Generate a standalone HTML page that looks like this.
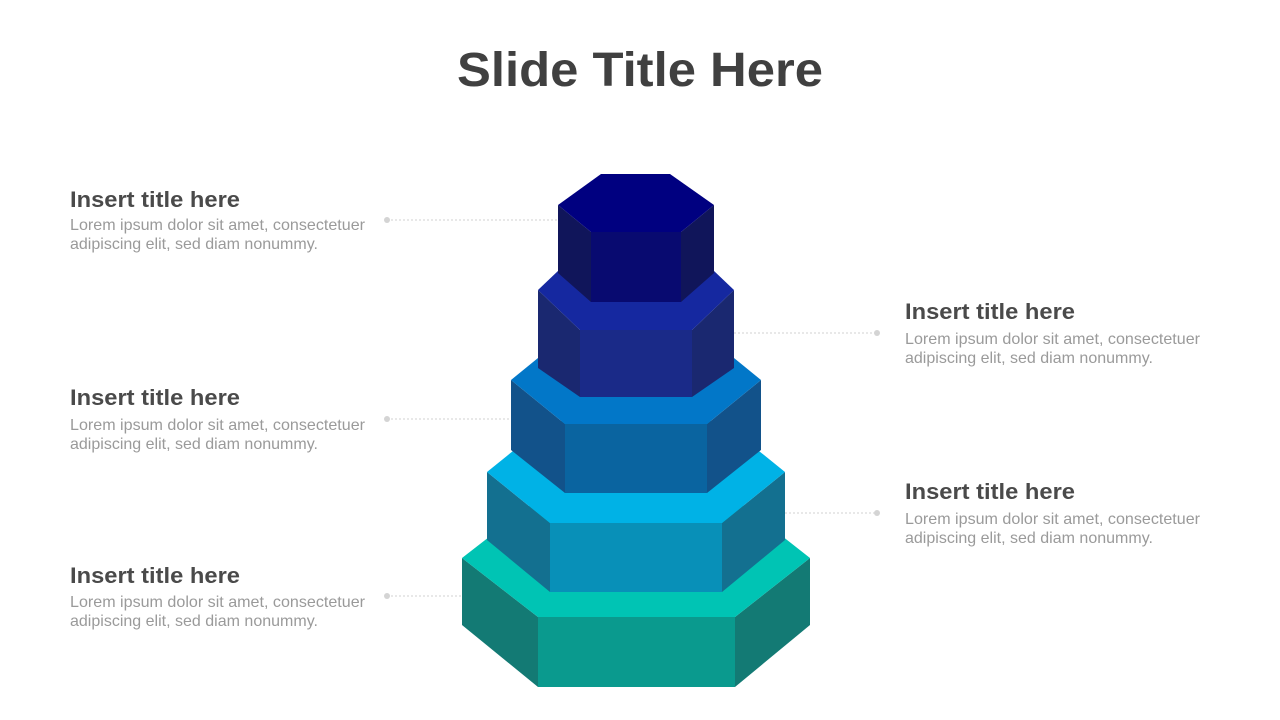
<!DOCTYPE html>
<html><head><meta charset="utf-8"><style>body{margin:0;background:#fff}svg{display:block}</style></head><body>
<svg width="1280" height="720" viewBox="0 0 1280 720" xmlns="http://www.w3.org/2000/svg" font-family="Liberation Sans, sans-serif">
<text x="457" y="86" font-size="48" font-weight="bold" fill="#404040" textLength="366" lengthAdjust="spacingAndGlyphs">Slide Title Here</text>
<g stroke="#d0d0d0" stroke-width="1" stroke-dasharray="2,2">
<line x1="387" y1="220" x2="558" y2="220"/><line x1="387" y1="419" x2="511" y2="419"/><line x1="387" y1="596" x2="462" y2="596"/>
<line x1="734" y1="333" x2="877" y2="333"/><line x1="785" y1="513" x2="877" y2="513"/>
</g>
<g fill="#d4d4d4"><circle cx="387" cy="220" r="3"/><circle cx="387" cy="419" r="3"/><circle cx="387" cy="596" r="3"/><circle cx="877" cy="333" r="3"/><circle cx="877" cy="513" r="3"/></g>
<polygon points="462,558 538,617 538,687 462,625" fill="#137a74"/>
<polygon points="538,617 735,617 735,687 538,687" fill="#0a9a8e"/>
<polygon points="735,617 810,558 810,625 735,687" fill="#137a74"/>
<polygon points="462,558 538,499 735,499 810,558 735,617 538,617" fill="#00c4b4"/>
<polygon points="487,472 550,523 550,592 487,540" fill="#137090"/>
<polygon points="550,523 722,523 722,592 550,592" fill="#0890b8"/>
<polygon points="722,523 785,472 785,540 722,592" fill="#137090"/>
<polygon points="487,472 550,421 722,421 785,472 722,523 550,523" fill="#00b2e6"/>
<polygon points="511,380 565,424 565,493 511,450" fill="#12528a"/>
<polygon points="565,424 707,424 707,493 565,493" fill="#0a64a0"/>
<polygon points="707,424 761,380 761,450 707,493" fill="#12528a"/>
<polygon points="511,380 565,336 707,336 761,380 707,424 565,424" fill="#0277c8"/>
<polygon points="538,290 580,330 580,397 538,368" fill="#1a2870"/>
<polygon points="580,330 692,330 692,397 580,397" fill="#1a2a88"/>
<polygon points="692,330 734,290 734,368 692,397" fill="#1a2870"/>
<polygon points="538,290 580,250 692,250 734,290 692,330 580,330" fill="#1528a0"/>
<polygon points="558,205 591,232 591,302 558,273" fill="#10155a"/>
<polygon points="591,232 681,232 681,302 591,302" fill="#080a70"/>
<polygon points="681,232 714,205 714,273 681,302" fill="#10155a"/>
<polygon points="558,205 601,174 670,174 714,205 681,232 591,232" fill="#000080"/>
<g font-size="22" font-weight="bold" fill="#4a4a4a">
<text x="70" y="207" textLength="170" lengthAdjust="spacingAndGlyphs">Insert title here</text>
<text x="70" y="405" textLength="170" lengthAdjust="spacingAndGlyphs">Insert title here</text>
<text x="70" y="583" textLength="170" lengthAdjust="spacingAndGlyphs">Insert title here</text>
<text x="905" y="319" textLength="170" lengthAdjust="spacingAndGlyphs">Insert title here</text>
<text x="905" y="499" textLength="170" lengthAdjust="spacingAndGlyphs">Insert title here</text>
</g>
<g font-size="16" fill="#9a9a9a">
<text x="70" y="230" textLength="295" lengthAdjust="spacingAndGlyphs">Lorem ipsum dolor sit amet, consectetuer</text>
<text x="70" y="249" textLength="248" lengthAdjust="spacingAndGlyphs">adipiscing elit, sed diam nonummy.</text>
<text x="70" y="430" textLength="295" lengthAdjust="spacingAndGlyphs">Lorem ipsum dolor sit amet, consectetuer</text>
<text x="70" y="449" textLength="248" lengthAdjust="spacingAndGlyphs">adipiscing elit, sed diam nonummy.</text>
<text x="70" y="607" textLength="295" lengthAdjust="spacingAndGlyphs">Lorem ipsum dolor sit amet, consectetuer</text>
<text x="70" y="626" textLength="248" lengthAdjust="spacingAndGlyphs">adipiscing elit, sed diam nonummy.</text>
<text x="905" y="344" textLength="295" lengthAdjust="spacingAndGlyphs">Lorem ipsum dolor sit amet, consectetuer</text>
<text x="905" y="363" textLength="248" lengthAdjust="spacingAndGlyphs">adipiscing elit, sed diam nonummy.</text>
<text x="905" y="524" textLength="295" lengthAdjust="spacingAndGlyphs">Lorem ipsum dolor sit amet, consectetuer</text>
<text x="905" y="543" textLength="248" lengthAdjust="spacingAndGlyphs">adipiscing elit, sed diam nonummy.</text>
</g>
</svg>
</body></html>
